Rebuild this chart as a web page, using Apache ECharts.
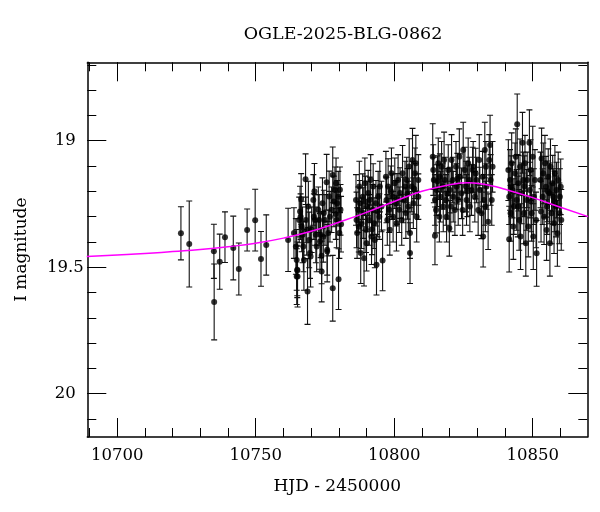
<!DOCTYPE html>
<html><head><meta charset="utf-8">
<script src="https://cdn.jsdelivr.net/npm/echarts@6/dist/echarts.min.js"></script>
<style>html,body{margin:0;padding:0;background:#fff}#c{width:600px;height:512px}</style>
</head><body><div id="c"></div><script>
const chartTitle = 'OGLE-2025-BLG-0862';
const xName = 'HJD - 2450000';
const yName = 'I magnitude';
const xMajorTicks = [10700, 10750, 10800, 10850];
const xMinorTicks = [10690,10700,10710,10720,10730,10740,10750,10760,10770,10780,10790,10800,10810,10820,10830,10840,10850,10860];
const yMajorTicks = [19, 19.5, 20];
const yMinorTicks = [18.7,18.8,18.9,19.0,19.1,19.2,19.3,19.4,19.5,19.6,19.7,19.8,19.9,20.0,20.1];

// [HJD-2450000, I mag, error]
const season1 = [[10723.0,19.366,0.105],[10726.0,19.408,0.17],[10734.9,19.437,0.107],[10735.0,19.637,0.15],[10737.0,19.478,0.109],[10738.9,19.381,0.10],[10741.9,19.424,0.126],[10743.9,19.507,0.103],[10746.9,19.353,0.083],[10749.8,19.314,0.122],[10751.9,19.467,0.108],[10753.8,19.412,0.119],[10761.7,19.392,0.125]];
const season2 = [[10763.8,19.365,0.10],[10764.5,19.418,0.11],[10764.8,19.471,0.12],[10765.0,19.510,0.11],[10765.1,19.537,0.12],[10765.7,19.313,0.09],[10766.0,19.280,0.10],[10766.2,19.300,0.09],[10766.6,19.339,0.10],[10766.9,19.372,0.11],[10767.2,19.418,0.10],[10767.4,19.471,0.12],[10768.0,19.152,0.10],[10768.1,19.313,0.09],[10768.4,19.352,0.10],[10768.7,19.596,0.13],[10769.3,19.392,0.11],[10769.6,19.444,0.10],[10769.8,19.458,0.12],[10770.2,19.352,0.09],[10770.8,19.234,0.10],[10771.0,19.300,0.09],[10771.4,19.313,0.10],[10771.7,19.372,0.11],[10772.0,19.418,0.10],[10772.6,19.273,0.09],[10772.9,19.313,0.10],[10773.2,19.398,0.11],[10773.4,19.372,0.09],[10773.8,19.517,0.12],[10773.8,19.455,0.11],[10774.1,19.247,0.10],[10774.6,19.286,0.09],[10775.0,19.313,0.10],[10775.6,19.164,0.11],[10775.8,19.431,0.10],[10775.8,19.438,0.12],[10776.2,19.365,0.09],[10776.8,19.300,0.10],[10777.4,19.273,0.09],[10777.8,19.135,0.11],[10777.8,19.583,0.13],[10778.2,19.240,0.10],[10778.6,19.194,0.09],[10779.0,19.168,0.10],[10779.2,19.313,0.11],[10779.4,19.247,0.09],[10779.8,19.221,0.10],[10780.2,19.365,0.10],[10779.9,19.547,0.12],[10780.4,19.194,0.09],[10780.6,19.273,0.10],[10764.8,19.537,0.11],[10765.0,19.513,0.10],[10766.4,19.230,0.10],[10769.0,19.260,0.10],[10771.2,19.200,0.11],[10774.4,19.380,0.10],[10776.5,19.220,0.10],[10778.9,19.290,0.10],[10780.8,19.330,0.11]];
const season3 = [[10786.2,19.234,0.10],[10786.4,19.313,0.11],[10786.6,19.365,0.10],[10787.0,19.273,0.09],[10787.4,19.181,0.10],[10787.6,19.247,0.09],[10787.9,19.444,0.12],[10788.2,19.326,0.10],[10788.6,19.221,0.09],[10788.8,19.286,0.10],[10789.1,19.464,0.11],[10789.4,19.168,0.10],[10789.8,19.352,0.09],[10790.0,19.405,0.11],[10790.3,19.260,0.10],[10790.6,19.207,0.09],[10791.0,19.313,0.10],[10791.2,19.234,0.09],[10791.5,19.155,0.10],[10791.8,19.379,0.11],[10792.2,19.273,0.10],[10792.4,19.181,0.09],[10792.7,19.326,0.10],[10793.0,19.392,0.11],[10793.4,19.247,0.09],[10793.6,19.490,0.12],[10794.2,19.221,0.10],[10794.6,19.300,0.09],[10794.8,19.181,0.10],[10795.4,19.260,0.10],[10795.8,19.473,0.12],[10797.0,19.142,0.10],[10797.2,19.234,0.09],[10797.5,19.313,0.10],[10797.8,19.181,0.11],[10798.2,19.273,0.09],[10798.4,19.352,0.10],[10799.0,19.129,0.10],[10799.4,19.221,0.09],[10799.6,19.300,0.10],[10800.2,19.168,0.10],[10800.6,19.247,0.09],[10800.8,19.326,0.11],[10801.4,19.155,0.10],[10801.8,19.273,0.09],[10802.1,19.207,0.10],[10802.7,19.313,0.10],[10803.0,19.129,0.11],[10803.3,19.234,0.09],[10803.9,19.181,0.10],[10804.2,19.286,0.10],[10804.5,19.155,0.09],[10805.1,19.260,0.10],[10805.4,19.102,0.11],[10805.7,19.365,0.10],[10805.7,19.444,0.12],[10806.3,19.181,0.10],[10806.6,19.076,0.125],[10806.9,19.247,0.10],[10807.5,19.129,0.10],[10807.8,19.089,0.11],[10808.1,19.300,0.10],[10808.7,19.221,0.09],[10808.7,19.155,0.10],[10787.2,19.340,0.10],[10789.6,19.240,0.10],[10792.0,19.350,0.10],[10794.0,19.280,0.10],[10798.8,19.200,0.10],[10801.0,19.230,0.10],[10804.8,19.210,0.10],[10807.2,19.190,0.10]];
const season4 = [[10813.9,19.063,0.13],[10814.1,19.116,0.10],[10814.3,19.155,0.09],[10814.7,19.234,0.10],[10814.7,19.376,0.114],[10815.1,19.274,0.09],[10815.3,19.195,0.10],[10815.9,19.089,0.10],[10816.3,19.300,0.10],[10816.5,19.142,0.09],[10816.7,19.221,0.10],[10817.1,19.103,0.10],[10817.5,19.181,0.09],[10817.7,19.260,0.10],[10818.0,19.076,0.11],[10818.3,19.155,0.09],[10818.7,19.234,0.10],[10818.9,19.300,0.10],[10819.5,19.116,0.10],[10819.9,19.346,0.11],[10820.1,19.195,0.09],[10820.4,19.260,0.10],[10820.7,19.076,0.10],[10821.1,19.155,0.09],[10821.3,19.221,0.10],[10821.9,19.274,0.10],[10822.3,19.103,0.10],[10822.5,19.181,0.09],[10823.1,19.234,0.10],[10823.5,19.063,0.11],[10823.7,19.142,0.09],[10824.3,19.208,0.10],[10824.7,19.274,0.10],[10824.9,19.037,0.11],[10825.5,19.116,0.09],[10825.9,19.181,0.10],[10826.1,19.234,0.10],[10826.7,19.089,0.10],[10827.1,19.155,0.09],[10827.3,19.260,0.10],[10827.9,19.195,0.10],[10828.3,19.116,0.09],[10828.5,19.103,0.10],[10829.1,19.221,0.10],[10829.7,19.155,0.09],[10830.3,19.274,0.10],[10830.7,19.076,0.10],[10830.9,19.195,0.09],[10831.5,19.287,0.10],[10831.9,19.142,0.10],[10832.1,19.379,0.12],[10832.4,19.234,0.10],[10832.7,19.037,0.11],[10833.1,19.103,0.10],[10833.3,19.181,0.09],[10833.9,19.320,0.11],[10834.3,19.076,0.10],[10834.6,19.017,0.118],[10834.8,19.155,0.10],[10835.2,19.234,0.10],[10835.5,19.103,0.10],[10815.6,19.160,0.10],[10819.2,19.210,0.10],[10822.8,19.150,0.10],[10826.4,19.200,0.10],[10829.4,19.130,0.10],[10832.9,19.260,0.10]];
const season5 = [[10841.2,19.116,0.12],[10841.5,19.221,0.11],[10841.5,19.389,0.13],[10841.8,19.155,0.12],[10842.0,19.287,0.11],[10842.4,19.089,0.12],[10842.7,19.195,0.11],[10843.0,19.339,0.13],[10843.2,19.260,0.11],[10843.6,19.129,0.12],[10843.9,19.063,0.11],[10844.2,19.234,0.12],[10844.4,18.935,0.12],[10844.8,19.168,0.11],[10845.1,19.313,0.12],[10845.4,19.103,0.11],[10845.6,19.379,0.13],[10846.0,19.208,0.12],[10846.3,19.008,0.12],[10846.6,19.155,0.11],[10846.8,19.287,0.12],[10847.2,19.089,0.11],[10847.5,19.405,0.13],[10847.8,19.234,0.12],[10848.0,19.155,0.11],[10848.4,19.339,0.12],[10848.8,19.008,0.13],[10849.0,19.195,0.11],[10849.2,19.116,0.12],[10849.6,19.287,0.11],[10850.0,19.063,0.12],[10850.2,19.379,0.13],[10850.4,19.221,0.11],[10850.8,19.155,0.12],[10851.2,19.313,0.11],[10851.4,19.445,0.13],[10852.8,19.155,0.11],[10853.2,19.070,0.12],[10853.6,19.221,0.11],[10853.8,19.129,0.12],[10854.1,19.300,0.11],[10854.4,19.089,0.11],[10854.8,19.182,0.12],[10855.0,19.353,0.12],[10855.2,19.260,0.11],[10855.6,19.142,0.11],[10856.0,19.208,0.12],[10856.2,19.405,0.13],[10856.4,19.103,0.11],[10856.8,19.287,0.12],[10857.2,19.168,0.11],[10857.4,19.221,0.11],[10857.7,19.326,0.12],[10858.0,19.129,0.11],[10858.4,19.260,0.12],[10858.6,19.195,0.11],[10858.9,19.366,0.13],[10859.2,19.155,0.11],[10859.6,19.287,0.12],[10859.8,19.221,0.11],[10860.1,19.182,0.11],[10860.3,19.313,0.12],[10842.2,19.180,0.12],[10844.6,19.260,0.12],[10847.0,19.180,0.12],[10849.4,19.240,0.12],[10853.0,19.280,0.12],[10855.4,19.200,0.12],[10857.9,19.240,0.12]];

// model curve
const modelDay = [10689,10700,10710,10720,10730,10740,10750,10760,10770,10780,10790,10800,10810,10820,10827,10835,10840,10850,10860,10870];
const modelMag = [19.458,19.452,19.446,19.438,19.430,19.419,19.405,19.385,19.358,19.322,19.283,19.240,19.200,19.174,19.166,19.178,19.192,19.225,19.263,19.300];

const xMin = 10689.2, xMax = 10869.7;
const yMin = 18.69, yMax = 20.171;
const FONT = 'DejaVu Serif';

const allPoints = season1.concat(season2, season3, season4, season5);

function errRender(params, api) {
  const x = api.value(0), y = api.value(1), e = api.value(2);
  const t = api.coord([x, y - e]);
  const b = api.coord([x, y + e]);
  const hw = 3;
  const style = {stroke: '#111', lineWidth: 1.1};
  return {type: 'group', children: [
    {type: 'line', shape: {x1: t[0], y1: t[1], x2: b[0], y2: b[1]}, style: style},
    {type: 'line', shape: {x1: t[0]-hw, y1: t[1], x2: t[0]+hw, y2: t[1]}, style: style},
    {type: 'line', shape: {x1: b[0]-hw, y1: b[1], x2: b[0]+hw, y2: b[1]}, style: style}
  ]};
}

function xAx(pos, major, main) {
  return {
    type: 'value', min: xMin, max: xMax, position: pos,
    splitLine: {show: false},
    axisLine: {show: major, onZero: false, lineStyle: {color: '#000', width: 1.5}},
    axisTick: {show: true, inside: true, length: major ? 19 : 9,
      customValues: major ? xMajorTicks : xMinorTicks, lineStyle: {color: '#000', width: 1}},
    axisLabel: {show: !!main, customValues: xMajorTicks, formatter: v => String(v),
      fontFamily: FONT, fontSize: 16.5, color: '#000', margin: 10},
    name: main ? xName : '', nameLocation: 'middle', nameGap: 41,
    nameTextStyle: {fontFamily: FONT, fontSize: 17, color: '#000'}
  };
}
function yAx(pos, major, main) {
  return {
    type: 'value', min: yMin, max: yMax, inverse: true, position: pos,
    splitLine: {show: false},
    axisLine: {show: major, onZero: false, lineStyle: {color: '#000', width: 1.5}},
    axisTick: {show: true, inside: true, length: major ? 19 : 9,
      customValues: major ? yMajorTicks : yMinorTicks, lineStyle: {color: '#000', width: 1}},
    axisLabel: {show: !!main, customValues: yMajorTicks, formatter: v => String(v),
      fontFamily: FONT, fontSize: 16.5, color: '#000', margin: 22, align: 'center'},
    name: main ? yName : '', nameLocation: 'middle', nameGap: 57,
    nameTextStyle: {fontFamily: FONT, fontSize: 17, color: '#000'}
  };
}

const chart = echarts.init(document.getElementById('c'), null, {renderer: 'canvas'});
chart.setOption({
  animation: false,
  backgroundColor: '#fff',
  title: {text: chartTitle, left: 338, top: 20, textAlign: 'center',
    textStyle: {fontFamily: FONT, fontSize: 17.5, fontWeight: 'normal', color: '#000'}},
  grid: {left: 87.3, right: 12.7, top: 62.3, bottom: 75, containLabel: false},
  xAxis: [xAx('bottom', true, true), xAx('bottom', false), xAx('top', true), xAx('top', false)],
  yAxis: [yAx('left', true, true), yAx('left', false), yAx('right', true), yAx('right', false)],
  series: [
    {type: 'custom', renderItem: errRender, data: allPoints, encode: {x: 0, y: 1}, clip: true, z: 2},
    {type: 'scatter', data: allPoints.map(p => [p[0], p[1]]), symbol: 'circle', symbolSize: 6,
      itemStyle: {color: '#000'}, z: 3},
    {type: 'line', data: modelDay.map((d, i) => [d, modelMag[i]]), smooth: true, showSymbol: false,
      lineStyle: {color: '#ff00ff', width: 1.5}, clip: true, z: 4}
  ]
});
</script></body></html>
